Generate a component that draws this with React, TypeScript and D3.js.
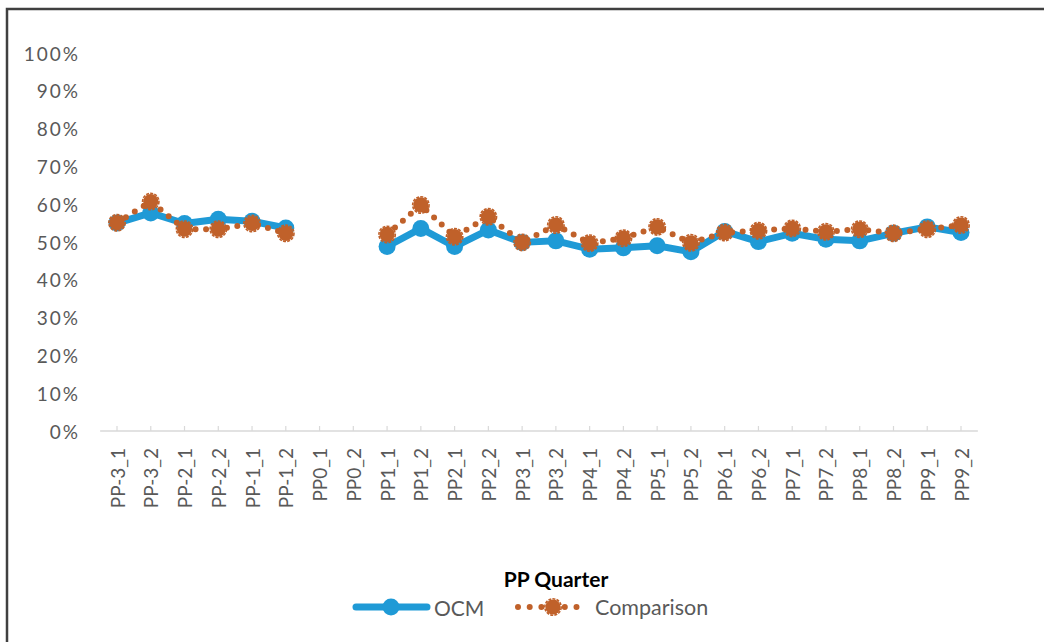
import React from 'react';
import * as d3 from 'd3';

const categories = [
  'PP-3_1', 'PP-3_2', 'PP-2_1', 'PP-2_2', 'PP-1_1', 'PP-1_2', 'PP0_1', 'PP0_2',
  'PP1_1', 'PP1_2', 'PP2_1', 'PP2_2', 'PP3_1', 'PP3_2', 'PP4_1', 'PP4_2',
  'PP5_1', 'PP5_2', 'PP6_1', 'PP6_2', 'PP7_1', 'PP7_2', 'PP8_1', 'PP8_2',
  'PP9_1', 'PP9_2',
];

const ocm: (number | null)[] = [
  0.55, 0.577, 0.549, 0.56, 0.555, 0.537, null, null,
  0.488, 0.536, 0.488, 0.532, 0.499, 0.503, 0.481, 0.485,
  0.49, 0.474, 0.528, 0.501, 0.523, 0.507, 0.503, 0.523,
  0.54, 0.525,
];

const comparison: (number | null)[] = [
  0.551, 0.607, 0.534, 0.534, 0.549, 0.523, null, null,
  0.52, 0.598, 0.514, 0.567, 0.499, 0.545, 0.497, 0.51,
  0.54, 0.498, 0.525, 0.53, 0.536, 0.527, 0.534, 0.523,
  0.534, 0.545,
];

const yTicks = [0, 0.1, 0.2, 0.3, 0.4, 0.5, 0.6, 0.7, 0.8, 0.9, 1.0];

const BLUE = '#1f9ad6';
const ORANGE = '#c0612a';
const FONT = 'Lato, "Open Sans", sans-serif';

function OrangeMarker({ cx, cy }: { cx: number; cy: number }) {
  return (
    <g>
      <circle cx={cx} cy={cy} r={7.6} fill={ORANGE} />
      <circle cx={cx} cy={cy} r={8.2} fill="none" stroke={ORANGE} strokeWidth={1.6} strokeDasharray="3 1.2" />
    </g>
  );
}

export default function App() {
  const W = 1044;
  const H = 642;
  const x = d3.scalePoint<string>().domain(categories).range([117, 961]);
  const y = d3.scaleLinear().domain([0, 1]).range([431, 53]);
  const step = x.step();
  const axisLeft = (x(categories[0]) as number) - step / 2;
  const axisRight = (x(categories[categories.length - 1]) as number) + step / 2;

  const mkLine = d3
    .line<number | null>()
    .defined((d) => d != null)
    .x((_d, i) => x(categories[i]) as number)
    .y((d) => y(d as number));

  const fmt = d3.format('.0%');

  return (
    <svg width={W} height={H} style={{ position: 'absolute', left: 0, top: 0, background: '#fff' }} fontFamily={FONT}>
      <rect x={0} y={0} width={W} height={H} fill="#fff" />
      {/* chart border */}
      <path d={`M7,${H} L7,9 L${W},9`} fill="none" stroke="#404040" strokeWidth={2.5} />

      {/* y tick labels */}
      {yTicks.map((t) => (
        <text key={t} x={80} y={y(t)} textAnchor="end" dominantBaseline="central" fontSize={19} letterSpacing={2} fill="#595959">
          {fmt(t)}
        </text>
      ))}

      {/* x axis */}
      <line x1={axisLeft} x2={axisRight} y1={y(0)} y2={y(0)} stroke="#d9d9d9" strokeWidth={1.5} />
      {categories.map((c) => (
        <line key={'t' + c} x1={x(c) as number} x2={x(c) as number} y1={y(0) - 5} y2={y(0)} stroke="#d9d9d9" strokeWidth={1.2} />
      ))}
      {categories.map((c) => (
        <text
          key={'l' + c}
          transform={`translate(${x(c)},448) rotate(-90)`}
          textAnchor="end"
          dominantBaseline="central"
          fontSize={19}
          fill="#595959"
        >
          {c}
        </text>
      ))}

      {/* OCM series */}
      <path d={mkLine(ocm) || ''} fill="none" stroke={BLUE} strokeWidth={7} strokeLinejoin="round" strokeLinecap="round" />
      {ocm.map((v, i) =>
        v == null ? null : <circle key={'o' + i} cx={x(categories[i]) as number} cy={y(v)} r={8.5} fill={BLUE} />
      )}

      {/* Comparison series */}
      <path
        d={mkLine(comparison) || ''}
        fill="none"
        stroke={ORANGE}
        strokeWidth={6}
        strokeDasharray="0 10.5"
        strokeLinecap="round"
      />
      {comparison.map((v, i) =>
        v == null ? null : <OrangeMarker key={'c' + i} cx={x(categories[i]) as number} cy={y(v)} />
      )}

      {/* axis title */}
      <text x={556} y={578} textAnchor="middle" dominantBaseline="central" fontSize={21} fontWeight="bold" fill="#000">
        PP Quarter
      </text>

      {/* legend */}
      <line x1={356} x2={427} y1={607} y2={607} stroke={BLUE} strokeWidth={7} strokeLinecap="round" />
      <circle cx={391} cy={607} r={8.5} fill={BLUE} />
      <text x={434} y={607} dominantBaseline="central" fontSize={21} fill="#595959">OCM</text>

      <line x1={518} x2={588} y1={607} y2={607} stroke={ORANGE} strokeWidth={6} strokeDasharray="0 11.7" strokeLinecap="round" />
      <OrangeMarker cx={553} cy={607} />
      <text x={595} y={607} dominantBaseline="central" fontSize={21.5} fill="#595959">Comparison</text>
    </svg>
  );
}
